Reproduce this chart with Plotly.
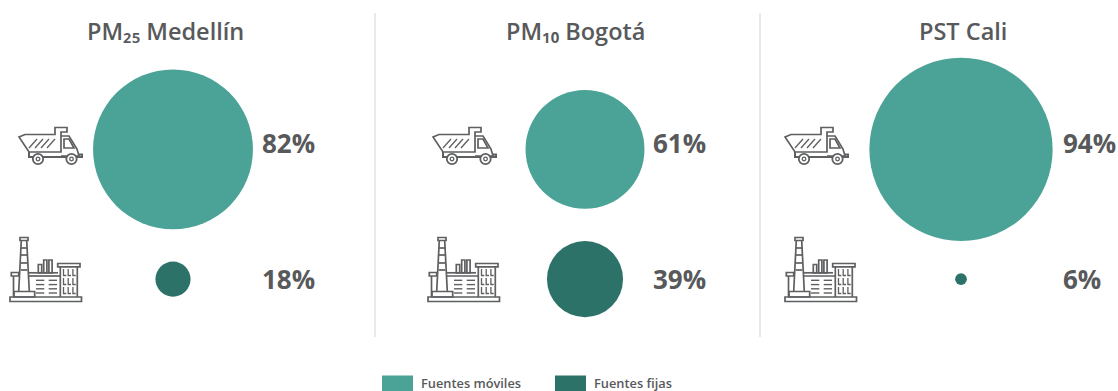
import plotly.graph_objects as go

# Data: share of emissions by source type in each city
cities = ["Medellín", "Bogotá", "Cali"]
titles = ["PM₂₅ Medellín", "PM₁₀ Bogotá", "PST Cali"]
sources = ["Fuentes móviles", "Fuentes fijas"]
moviles = [82, 61, 94]
fijas = [18, 39, 6]

W, H = 1118, 391
TEXT = "#58595b"
ICON = "#5e5f61"
TEAL = "#4aa396"
DARK = "#2c7268"
FONT = "Open Sans"
DIAMETER_PER_POINT = 1.95

panel_centers = [173, 585, 961]
title_centers = [165, 575.5, 963]
label_left = [259.5, 650.5, 1060.5]
truck_dx = [0, 414, 766]
factory_dx = [0, 418, 775]


def fx(px):
    return px / W


def fy(px):
    return 1 - px / H


fig = go.Figure()
xaxes = {}
for i, city in enumerate(cities):
    suffix = "" if i == 0 else str(i + 1)
    half = 120
    xaxes[f"xaxis{suffix}"] = dict(
        domain=[fx(panel_centers[i] - half), fx(panel_centers[i] + half)],
        range=[-0.5, 0.5], type="category", visible=False, anchor="y",
    )
    for source, values, color in zip(sources, (moviles, fijas), (TEAL, DARK)):
        fig.add_trace(go.Scatter(
            x=[city], y=[source], mode="markers", name=source,
            xaxis=f"x{suffix}", yaxis="y", cliponaxis=False, showlegend=False,
            marker=dict(size=values[i] * DIAMETER_PER_POINT, color=color, line_width=0),
            hovertemplate=f"{source}: {values[i]}%<extra>{city}</extra>",
        ))

annotations = []


def text(x, y, s, size, anchor="center", weight=400, color=TEXT):
    annotations.append(dict(
        x=fx(x), y=fy(y), xref="paper", yref="paper", text=s, showarrow=False,
        xanchor=anchor, yanchor="middle",
        font=dict(family=FONT, size=size, color=color, weight=weight),
    ))


for i in range(3):
    text(title_centers[i], 31, titles[i], 23.5, weight=600)
    text(label_left[i], 143, f"{moviles[i]}%", 26, "left", 700)
    text(label_left[i], 279, f"{fijas[i]}%", 26, "left", 700)

shapes = []


def stroke(path, width=1.7, color=ICON, fill=None):
    shape = dict(type="path", path=path, xref="paper", yref="paper",
                 line=dict(color=color, width=width))
    if fill:
        shape["fillcolor"] = fill
    shapes.append(shape)


def poly(points, dx, close=False):
    body = " L".join(f"{fx(x + dx):.5f},{fy(y):.5f}" for x, y in points)
    return "M" + body + (" Z" if close else "")


def ellipse(cx, cy, r, width=1.8):
    shapes.append(dict(type="circle", xref="paper", yref="paper",
                       x0=fx(cx - r), x1=fx(cx + r), y0=fy(cy + r), y1=fy(cy - r),
                       line=dict(color=ICON, width=width), fillcolor="white"))


def truck(dx):
    stroke(poly([(19, 137), (25, 134.5), (55, 134.5), (55, 127.5), (67, 127.5),
                 (67, 132), (61, 132), (61, 152), (29, 152)], dx, True))
    stroke(poly([(61, 136), (69, 136), (77, 149), (79, 156), (61, 156)], dx))
    stroke(poly([(64, 139), (69, 139), (74, 148), (64, 148)], dx, True))
    stroke(poly([(29, 152), (29, 157), (82, 157), (82, 154.5), (78.5, 154.5)], dx), 2)
    for x0 in (29, 35, 41, 47):
        stroke(poly([(x0, 148), (x0 + 8, 139)], dx), 1.3)
    for cx in (38, 71.5):
        ellipse(cx + dx, 159, 5.2)
        ellipse(cx + dx, 159, 1.8, 1.3)


def rect(x0, y0, x1, y1, dx, width=1.7):
    stroke(poly([(x0, y0), (x1, y0), (x1, y1), (x0, y1)], dx, True), width)


def factory(dx):
    rect(10, 297, 81.5, 301.5, dx)
    rect(20, 237.5, 28, 240.5, dx)
    stroke(poly([(21.3, 240.5), (18.7, 291.5)], dx))
    stroke(poly([(26.7, 240.5), (29.3, 291.5)], dx))
    for y in (248, 255, 263, 270):
        stroke(poly([(20.7, y), (27.3, y)], dx))
    rect(14, 291.5, 34.7, 297, dx)
    rect(11.3, 272.5, 18.7, 276, dx)
    stroke(poly([(13.5, 276), (13.5, 297)], dx))
    stroke(poly([(29, 272.8), (58, 272.8)], dx))
    stroke(poly([(29, 276), (60, 276)], dx))
    rect(38.3, 264.5, 41.7, 272.8, dx)
    rect(43.7, 260, 46.9, 272.8, dx)
    rect(48.9, 260, 52.1, 272.8, dx)
    for y in (280.3, 284.6, 288.8, 293):
        stroke(poly([(36, y), (44.3, y)], dx), 1.4)
        stroke(poly([(48.7, y), (57, y)], dx), 1.4)
    rect(57.7, 263.5, 80, 266.8, dx)
    stroke(poly([(60.3, 266.8), (60.3, 297)], dx))
    stroke(poly([(77.3, 266.8), (77.3, 297)], dx))
    for top, bottom in ((269, 275.5), (278, 284.5), (287, 293.5)):
        for x in (63.5, 68.2, 72.9):
            stroke(poly([(x, top), (x, bottom), (x + 2.8, bottom)], dx), 1.3)


for i in range(3):
    truck(truck_dx[i])
    factory(factory_dx[i])

# Panel dividers
for x in (375, 760):
    shapes.append(dict(type="line", xref="paper", yref="paper",
                       x0=fx(x), x1=fx(x), y0=fy(13), y1=fy(337),
                       line=dict(color="#d2d3d3", width=1)))

# Key below the panels
for x0, color, label, tx in ((382, TEAL, sources[0], 418.5), (555, DARK, sources[1], 591.5)):
    shapes.append(dict(type="rect", xref="paper", yref="paper",
                       x0=fx(x0), x1=fx(x0 + 31), y0=0, y1=fy(375.5),
                       line_width=0, fillcolor=color))
    text(tx, 382.5, label, 12.8, "left", 600)

fig.update_layout(
    width=W, height=H, autosize=False,
    margin=dict(l=0, r=0, t=0, b=0, pad=0),
    paper_bgcolor="white", plot_bgcolor="rgba(0,0,0,0)",
    showlegend=False, shapes=shapes, annotations=annotations,
    yaxis=dict(type="category", categoryorder="array", categoryarray=sources[::-1],
               range=[-0.5, 1.5], domain=[fy(344), fy(84.5)], visible=False),
    **xaxes,
)
fig.write_html("out.html", config={"displayModeBar": False})
